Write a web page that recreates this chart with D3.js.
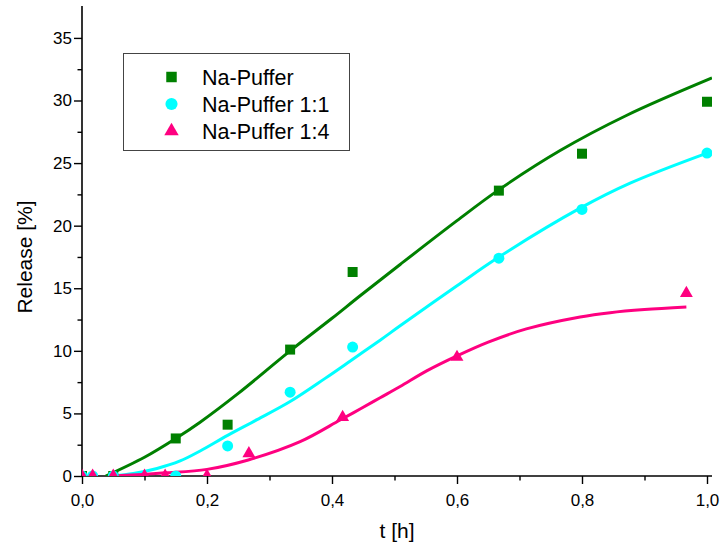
<!DOCTYPE html>
<html>
<head>
<meta charset="utf-8">
<script src="https://cdn.jsdelivr.net/npm/d3@7"></script>
<style>
  body { margin: 0; background: #fff; }
  svg text { font-family: Arial, "Liberation Sans", sans-serif; fill: #000; }
</style>
</head>
<body>
<div id="chart"></div>
<script>
// measured points
const tPuffer = [0, 0.05, 0.15, 0.233, 0.333, 0.433, 0.667, 0.8, 1.0];
const relPuffer = [0, 0, 3.0, 4.1, 10.1, 16.3, 22.8, 25.75, 29.9];
const tPuffer11 = [0, 0.017, 0.05, 0.15, 0.233, 0.333, 0.433, 0.667, 0.8, 1.0];
const relPuffer11 = [0, 0, 0, 0, 2.4, 6.7, 10.3, 17.4, 21.3, 25.8];
const tPuffer14 = [0, 0.017, 0.05, 0.1, 0.133, 0.2, 0.267, 0.417, 0.6, 0.967];
const relPuffer14 = [0, 0, 0, 0, 0, 0, 1.8, 4.7, 9.5, 14.6];

// fitted curves
const fitPufferT = [0.038, 0.1, 0.15, 0.189, 0.25, 0.333, 0.4, 0.445, 0.509, 0.6, 0.665, 0.765, 0.871, 1.008];
const fitPufferY = [0, 1.5, 3.0, 4.3, 6.6, 10.0, 12.6, 14.4, 16.9, 20.4, 22.8, 26.0, 28.8, 31.8];
const fitPuffer11T = [0.05, 0.082, 0.12, 0.157, 0.189, 0.233, 0.28, 0.333, 0.389, 0.431, 0.477, 0.509, 0.6, 0.664, 0.797, 0.877, 1.0];
const fitPuffer11Y = [0, 0.2, 0.6, 1.2, 2.0, 3.25, 4.5, 5.95, 7.8, 9.25, 10.85, 12.0, 15.2, 17.4, 21.4, 23.4, 25.8];
const fitPuffer14T = [0.05, 0.098, 0.133, 0.2, 0.266, 0.349, 0.413, 0.445, 0.477, 0.509, 0.5515, 0.6, 0.65, 0.711, 0.797, 0.845, 0.9, 0.967];
const fitPuffer14Y = [0, 0.13, 0.25, 0.53, 1.28, 2.74, 4.47, 5.35, 6.25, 7.15, 8.4, 9.6, 10.7, 11.75, 12.7, 13.05, 13.3, 13.5];

const seriesNames = ["Na-Puffer", "Na-Puffer 1:1", "Na-Puffer 1:4"];
const seriesColors = ["#008000", "#00ffff", "#ff0080"];
const xMajor = [0, 0.2, 0.4, 0.6, 0.8, 1.0];
const xMinor = [0.1, 0.3, 0.5, 0.7, 0.9];
const yMajor = [0, 5, 10, 15, 20, 25, 30, 35];
const yMinor = [2.5, 7.5, 12.5, 17.5, 22.5, 27.5, 32.5];

const width = 721, height = 546;
const margin = {top: 6, right: 9, bottom: 70, left: 82};

const svg = d3.select("#chart").append("svg")
  .attr("width", width)
  .attr("height", height);

const xScale = d3.scaleLinear().domain([0, 1.008]).range([margin.left, width - margin.right]);
const yScale = d3.scaleLinear().domain([0, 37.55]).range([height - margin.bottom, margin.top]);

svg.append("clipPath").attr("id", "plot")
  .append("rect")
  .attr("x", xScale(0)).attr("y", yScale(37.55))
  .attr("width", xScale(1.008) - xScale(0))
  .attr("height", yScale(0) - yScale(37.55));

const fmt = d => d3.format(".1f")(d).replace(".", ",");

// axes
const gX = svg.append("g").attr("transform", `translate(0,${yScale(0)})`)
  .call(d3.axisBottom(xScale).tickValues(xMajor).tickFormat(fmt).tickSize(8).tickPadding(10));
svg.append("g").attr("transform", `translate(0,${yScale(0)})`)
  .call(d3.axisBottom(xScale).tickValues(xMinor).tickFormat("").tickSize(4.5))
  .select(".domain").remove();
const gY = svg.append("g").attr("transform", `translate(${xScale(0)},0)`)
  .call(d3.axisLeft(yScale).tickValues(yMajor).tickSize(8).tickPadding(2));
svg.append("g").attr("transform", `translate(${xScale(0)},0)`)
  .call(d3.axisLeft(yScale).tickValues(yMinor).tickFormat("").tickSize(4.5))
  .select(".domain").remove();

svg.selectAll(".domain").attr("stroke", "#000").attr("stroke-width", 1.6);
svg.selectAll(".tick line").attr("stroke", "#000").attr("stroke-width", 1.4);
svg.selectAll(".tick text").style("font-size", "17px").style("font-family", "Arial, 'Liberation Sans', sans-serif");
gX.select(".domain").attr("d", `M${xScale(0)},0H${xScale(1.008)}`);
gY.select(".domain").attr("d", `M0,${yScale(0)}V${yScale(37.55)}`);

svg.append("text")
  .attr("x", 397).attr("y", 538)
  .attr("text-anchor", "middle")
  .style("font-size", "21px")
  .text("t [h]");

svg.append("text")
  .attr("transform", "translate(32,257) rotate(-90)")
  .attr("text-anchor", "middle")
  .style("font-size", "21px")
  .text("Release [%]");

// fit lines
const line = d3.line()
  .x(d => xScale(d[0]))
  .y(d => yScale(d[1]))
  .curve(d3.curveCatmullRom.alpha(0.5));

const fits = [
  d3.zip(fitPufferT, fitPufferY),
  d3.zip(fitPuffer11T, fitPuffer11Y),
  d3.zip(fitPuffer14T, fitPuffer14Y)
];
const points = [
  d3.zip(tPuffer, relPuffer),
  d3.zip(tPuffer11, relPuffer11),
  d3.zip(tPuffer14, relPuffer14)
];
const symbols = [d3.symbolSquare, d3.symbolCircle, d3.symbolTriangle];
const symbolSizes = [100, 95, 72];

const plot = svg.append("g").attr("clip-path", "url(#plot)");

fits.forEach((f, i) => {
  plot.append("path")
    .datum(f)
    .attr("d", line)
    .attr("fill", "none")
    .attr("stroke", seriesColors[i])
    .attr("stroke-width", 3);
});

points.forEach((p, i) => {
  plot.selectAll(".pt" + i)
    .data(p)
    .enter().append("path")
    .attr("class", "pt" + i)
    .attr("transform", d => `translate(${xScale(d[0])},${yScale(d[1])})`)
    .attr("d", d3.symbol().type(symbols[i]).size(symbolSizes[i]))
    .attr("fill", seriesColors[i]);
});

// legend
const legend = svg.append("g");
legend.append("rect")
  .attr("x", 123.5).attr("y", 53.5)
  .attr("width", 226).attr("height", 97)
  .attr("fill", "#fff")
  .attr("stroke", "#444")
  .attr("stroke-width", 1);

const legendSizes = [110, 115, 90];
seriesNames.forEach((name, i) => {
  const cy = 77 + i * 27;
  legend.append("path")
    .attr("transform", `translate(171.5,${cy})`)
    .attr("d", d3.symbol().type(symbols[i]).size(legendSizes[i]))
    .attr("fill", seriesColors[i]);
  legend.append("text")
    .attr("x", 202).attr("y", cy + 7.5)
    .style("font-size", "21.5px")
    .text(name);
});
</script>
</body>
</html>
